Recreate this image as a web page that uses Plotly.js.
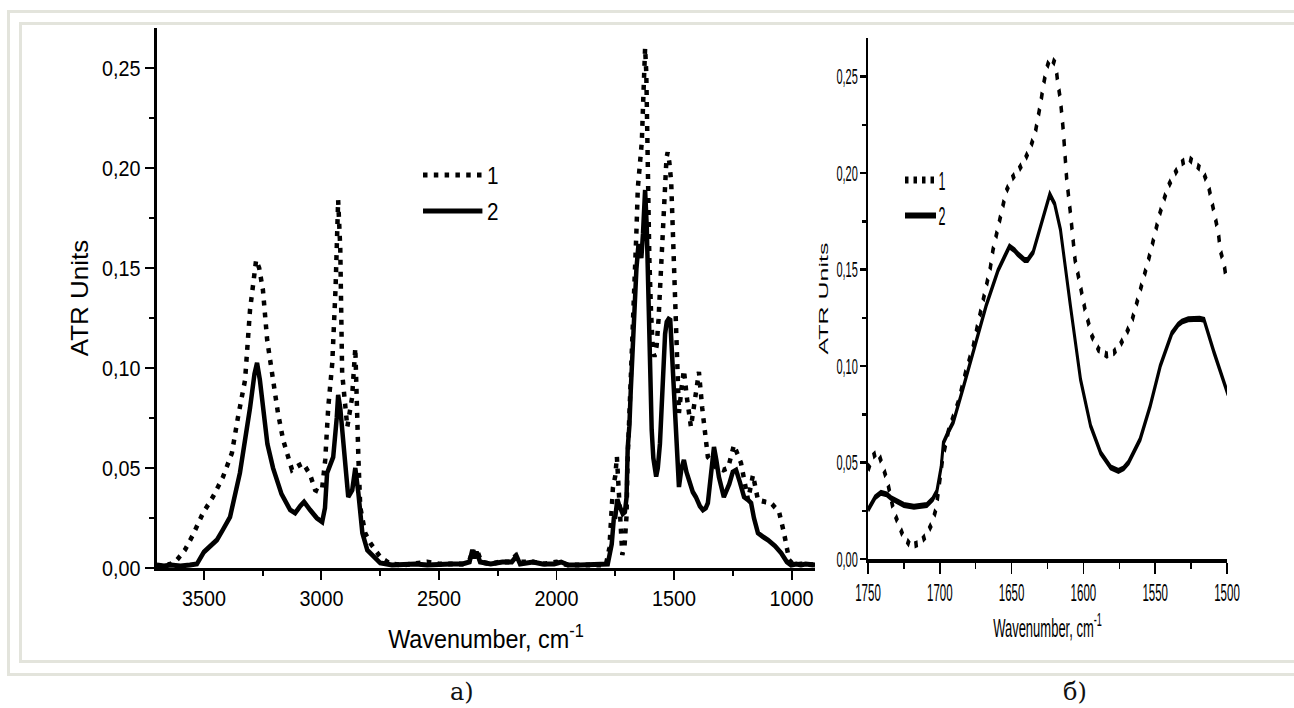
<!DOCTYPE html>
<html><head><meta charset="utf-8">
<script src="https://cdn.plot.ly/plotly-3.0.1.min.js"></script>
<style>
html,body{margin:0;padding:0;background:#fff;width:1294px;height:708px;overflow:hidden;}
.fr{position:absolute;box-sizing:border-box;border:3px solid #e3e4dc;}
#outer{left:7px;top:10px;width:1400px;height:666px;}
#inner{left:19px;top:22px;width:1400px;height:641px;}
#left{position:absolute;left:0;top:0;width:940px;height:708px;transform:scaleX(0.9);transform-origin:0 0;}
#right{position:absolute;left:800px;top:0;width:988px;height:708px;transform:scaleX(0.5);transform-origin:0 0;}
.lab{position:absolute;font-family:'DejaVu Serif','Liberation Serif',serif;font-size:24px;line-height:24px;color:#111;}
</style></head>
<body>
<div id="outer" class="fr"></div>
<div id="inner" class="fr"></div>
<div id="left"></div>
<div id="right"></div>
<div class="lab" style="left:450px;top:680px;">а)</div>
<div class="lab" style="left:1063px;top:680px;">б)</div>
<script>
// ---- panel a) : full spectrum ----
const wnA1 = [3700,3680,3660,3640,3615,3581,3547,3504,3462,3419,3381,3355,3325,3304,3290,3278,3265,3249,3231,3210,3185,3163,3125,3100,3078,3048,3027,3010,2997,2984,2971,2954,2940,2929,2920,2912,2890,2870,2856,2843,2835,2814,2792,2750,2707,2650,2600,2550,2500,2450,2400,2370,2355,2345,2335,2320,2280,2240,2200,2175,2160,2100,2050,2000,1950,1900,1850,1790,1775,1760,1750,1743,1736,1728,1720,1710,1702,1698,1690,1682,1674,1667,1660,1654,1646,1637,1630,1623,1618,1612,1605,1598,1590,1583,1574,1566,1557,1550,1541,1532,1527,1520,1512,1506,1500,1492,1479,1468,1458,1445,1428,1410,1394,1380,1364,1356,1322,1290,1270,1245,1215,1185,1164,1143,1110,1087,1053,1032,1010,990,960,930,900];
const s1A = [0.001,0.001,0.0015,0.002,0.004,0.009,0.0165,0.0275,0.0355,0.0455,0.0575,0.0755,0.094,0.129,0.145,0.154,0.15,0.139,0.114,0.0955,0.0775,0.064,0.049,0.051,0.0525,0.0465,0.039,0.038,0.040,0.054,0.0805,0.1025,0.14,0.184,0.16,0.0975,0.0705,0.085,0.11,0.0555,0.0305,0.0175,0.0125,0.0055,0.002,0.0015,0.002,0.003,0.002,0.002,0.002,0.004,0.009,0.006,0.008,0.003,0.002,0.003,0.003,0.006,0.003,0.003,0.002,0.003,0.0015,0.0015,0.0015,0.0015,0.01,0.04,0.046,0.0557,0.0405,0.0173,0.0066,0.012,0.026,0.052,0.0745,0.0968,0.12,0.144,0.168,0.19,0.201,0.213,0.237,0.26,0.2477,0.1966,0.155,0.129,0.1086,0.1057,0.111,0.124,0.147,0.17,0.193,0.205,0.2078,0.203,0.193,0.169,0.145,0.1175,0.0775,0.09,0.099,0.085,0.0705,0.085,0.098,0.08,0.0625,0.0555,0.0505,0.049,0.05,0.0615,0.0525,0.034,0.0465,0.034,0.033,0.0325,0.028,0.0175,0.004,0.0015,0.002,0.0015,0.0015];
const wnA2 = [3700,3670,3640,3600,3560,3530,3500,3445,3420,3389,3347,3320,3304,3285,3274,3262,3249,3230,3206,3170,3133,3112,3090,3074,3048,3020,2997,2985,2976,2950,2935,2929,2920,2907,2886,2869,2856,2843,2826,2805,2750,2700,2650,2600,2550,2500,2450,2400,2370,2358,2350,2340,2325,2280,2230,2190,2170,2155,2100,2060,2010,1980,1950,1900,1850,1790,1782,1765,1756,1750,1741,1734,1725,1718,1709,1702,1697,1690,1684,1676,1668,1660,1651,1646,1639,1632,1623,1616,1609,1602,1595,1588,1581,1576,1569,1560,1553,1546,1538,1531,1523,1516,1509,1500,1490,1479,1468,1458,1447,1437,1420,1407,1390,1377,1365,1356,1340,1330,1320,1309,1288,1265,1250,1236,1220,1202,1185,1172,1160,1143,1120,1100,1070,1044,1020,1002,980,960,940,920,900];
const s2A = [0.0015,0.001,0.0015,0.001,0.0015,0.002,0.008,0.014,0.019,0.0255,0.0475,0.067,0.08,0.097,0.1025,0.094,0.08,0.062,0.05,0.037,0.029,0.0275,0.031,0.033,0.029,0.025,0.023,0.03,0.0475,0.0555,0.075,0.0865,0.08,0.064,0.0355,0.039,0.05,0.0375,0.0175,0.009,0.0025,0.0015,0.002,0.002,0.0015,0.002,0.002,0.002,0.003,0.009,0.005,0.008,0.003,0.002,0.003,0.003,0.006,0.002,0.003,0.002,0.002,0.003,0.0015,0.0015,0.0015,0.0015,0.002,0.012,0.025,0.0254,0.0343,0.0316,0.028,0.0271,0.028,0.0352,0.06,0.0709,0.0888,0.11,0.1316,0.1495,0.162,0.158,0.155,0.167,0.189,0.1707,0.131,0.093,0.069,0.055,0.0474,0.0457,0.05,0.062,0.0793,0.1,0.117,0.123,0.1245,0.124,0.107,0.085,0.06,0.0405,0.05,0.054,0.048,0.044,0.038,0.0355,0.031,0.029,0.03,0.0325,0.05,0.0605,0.054,0.0455,0.0355,0.042,0.048,0.049,0.043,0.0355,0.034,0.0325,0.025,0.0175,0.0155,0.014,0.011,0.0075,0.003,0.0015,0.002,0.0015,0.002,0.0015,0.0015];

// ---- panel б) : 1750-1500 cm-1 ----
const wnB1 = [1750,1747,1743,1739.4,1736.6,1732,1728.6,1725.6,1720,1714,1709.7,1705.6,1702.6,1700,1698,1694,1690,1687,1682,1676.8,1674,1671.7,1669,1666.9,1664.8,1663,1660.7,1658.4,1656,1653.8,1650,1645.7,1641,1637,1633.5,1631.4,1629.6,1628,1625.7,1623.2,1619.3,1618,1616,1614,1611.6,1609,1605.8,1602,1598.8,1594,1589.5,1583.7,1579,1574.4,1570,1566,1560.5,1557,1554.7,1552,1550,1547,1544,1541,1537,1532,1526.7,1522,1516.7,1512.8,1510.5,1508,1506,1504.7,1502,1500.5];
const s1B = [0.046,0.053,0.0557,0.0477,0.0405,0.0245,0.0173,0.012,0.0066,0.0084,0.012,0.0182,0.026,0.0423,0.052,0.0664,0.0745,0.0816,0.0968,0.110,0.12,0.128,0.136,0.144,0.151,0.160,0.168,0.176,0.184,0.1905,0.197,0.201,0.2066,0.213,0.221,0.229,0.237,0.245,0.254,0.260,0.2566,0.2477,0.238,0.222,0.1966,0.179,0.155,0.141,0.129,0.1155,0.1086,0.1057,0.1069,0.111,0.117,0.124,0.139,0.147,0.155,0.163,0.170,0.1785,0.186,0.193,0.199,0.205,0.2078,0.205,0.201,0.193,0.185,0.177,0.169,0.160,0.1526,0.145];
const wnB2 = [1750,1745,1741,1737,1734,1725,1718,1712,1709,1705,1702,1699,1697.5,1694,1690.6,1683.7,1675.6,1667.6,1659.5,1654,1651.5,1648,1645.7,1641,1638.8,1635,1632,1627,1623.4,1620,1616,1609,1602,1595,1588,1581,1575.6,1572,1568.6,1560.5,1553.5,1546.5,1538.4,1534,1531.4,1527,1523,1519,1516,1509,1499.3];
const s2B = [0.0254,0.032,0.0343,0.0335,0.0316,0.028,0.0271,0.0272,0.028,0.031,0.0352,0.048,0.0602,0.066,0.0709,0.0888,0.110,0.1316,0.1495,0.158,0.162,0.160,0.158,0.155,0.155,0.159,0.167,0.180,0.189,0.184,0.1707,0.131,0.093,0.069,0.055,0.0474,0.0457,0.047,0.050,0.062,0.0793,0.100,0.117,0.1215,0.123,0.1242,0.1245,0.1245,0.124,0.107,0.0853];

const seriesNames = ['1','2'];
const yTicks = [0,0.05,0.10,0.15,0.20,0.25];

const FONT = 'Liberation Sans, Arial, sans-serif';
const BLACK = '#000';

function axisBase(o){
  return Object.assign({
    showline:true, linecolor:BLACK, showgrid:false, zeroline:false,
    ticks:'outside', tickcolor:BLACK, mirror:false, automargin:false,
    fixedrange:true
  }, o);
}

// LEFT
const leftData = [
  {x:wnA1, y:s1A, type:'scatter', mode:'lines', name:seriesNames[0], legendgroup:'g1',
   line:{color:BLACK, width:5, dash:'5px,7px'}},
  {x:wnA2, y:s2A, type:'scatter', mode:'lines', name:seriesNames[1], legendgroup:'g2',
   line:{color:BLACK, width:5}}
];
const leftLayout = {
  width:940, height:708, margin:{l:0,r:0,t:0,b:0},
  paper_bgcolor:'rgba(0,0,0,0)', plot_bgcolor:'rgba(0,0,0,0)',
  separators:',.',
  font:{family:FONT, color:BLACK},
  showlegend:true,
  legend:{x:0.4947, y:0.783, xanchor:'left', yanchor:'top', bgcolor:'rgba(0,0,0,0)',
          borderwidth:0, font:{size:23, family:FONT, color:BLACK}, itemwidth:66,
          traceorder:'grouped', tracegroupgap:3},
  xaxis: axisBase({domain:[0.1855,0.9634], range:[3700,900], tickmode:'linear', tick0:0, dtick:500,
    ticklen:9, tickwidth:2.2, linewidth:2.5, tickfont:{size:22, family:FONT, color:BLACK},
    minor:{tickmode:'linear', tick0:0, dtick:250, ticks:'outside', ticklen:5, tickwidth:2, tickcolor:BLACK, showgrid:false},
    title:{text:'Wavenumber, cm<sup>-1</sup>', font:{size:26, family:FONT, color:BLACK}, standoff:20}}),
  yaxis: axisBase({domain:[0.19774,0.96045], range:[0,0.27], tickmode:'array', tickvals:yTicks, tickformat:'.2f',
    ticklen:11, tickwidth:2.2, linewidth:2.8, tickfont:{size:22, family:FONT, color:BLACK},
    minor:{tickmode:'linear', tick0:0, dtick:0.025, ticks:'outside', ticklen:6, tickwidth:2, tickcolor:BLACK, showgrid:false},
    title:{text:'ATR Units', font:{size:26, family:FONT, color:BLACK}, standoff:8}})
};

// RIGHT
const rightData = [
  {x:wnB1, y:s1B, type:'scatter', mode:'lines', name:seriesNames[0], legendgroup:'g1',
   line:{color:BLACK, width:7, dash:'7px,10px'}},
  {x:wnB2, y:s2B, type:'scatter', mode:'lines', name:seriesNames[1], legendgroup:'g2',
   line:{color:BLACK, width:6}}
];
const rightLayout = {
  width:988, height:708, margin:{l:0,r:0,t:0,b:0},
  paper_bgcolor:'rgba(0,0,0,0)', plot_bgcolor:'rgba(0,0,0,0)',
  separators:',.',
  font:{family:FONT, color:BLACK},
  showlegend:true,
  legend:{x:0.2075, y:0.778, xanchor:'left', yanchor:'top', bgcolor:'rgba(0,0,0,0)',
          borderwidth:0, font:{size:25, family:FONT, color:BLACK}, itemwidth:62,
          traceorder:'grouped', tracegroupgap:0},
  xaxis: axisBase({domain:[0.13765,0.86437], range:[1750,1500], tickmode:'linear', tick0:0, dtick:50,
    ticklen:11, tickwidth:3, linewidth:3.5, tickfont:{size:23, family:FONT, color:BLACK},
    minor:{tickmode:'linear', tick0:0, dtick:25, ticks:'outside', ticklen:6, tickwidth:3, tickcolor:BLACK, showgrid:false},
    title:{text:'Wavenumber, cm<sup>-1</sup>', font:{size:26, family:FONT, color:BLACK}, standoff:14}}),
  yaxis: axisBase({domain:[0.21045,0.94633], range:[0,0.27], tickmode:'array', tickvals:yTicks, tickformat:'.2f',
    ticklen:13, tickwidth:2.5, linewidth:3, tickfont:{size:22, family:FONT, color:BLACK},
    minor:{tickmode:'linear', tick0:0, dtick:0.025, ticks:'outside', ticklen:9, tickwidth:2.5, tickcolor:BLACK, showgrid:false},
    title:{text:'ATR Units', font:{size:25, family:FONT, color:BLACK}, standoff:10}})
};

const cfg = {staticPlot:true, displayModeBar:false, responsive:false};
Plotly.newPlot('left', leftData, leftLayout, cfg);
Plotly.newPlot('right', rightData, rightLayout, cfg);
</script>
</body></html>
